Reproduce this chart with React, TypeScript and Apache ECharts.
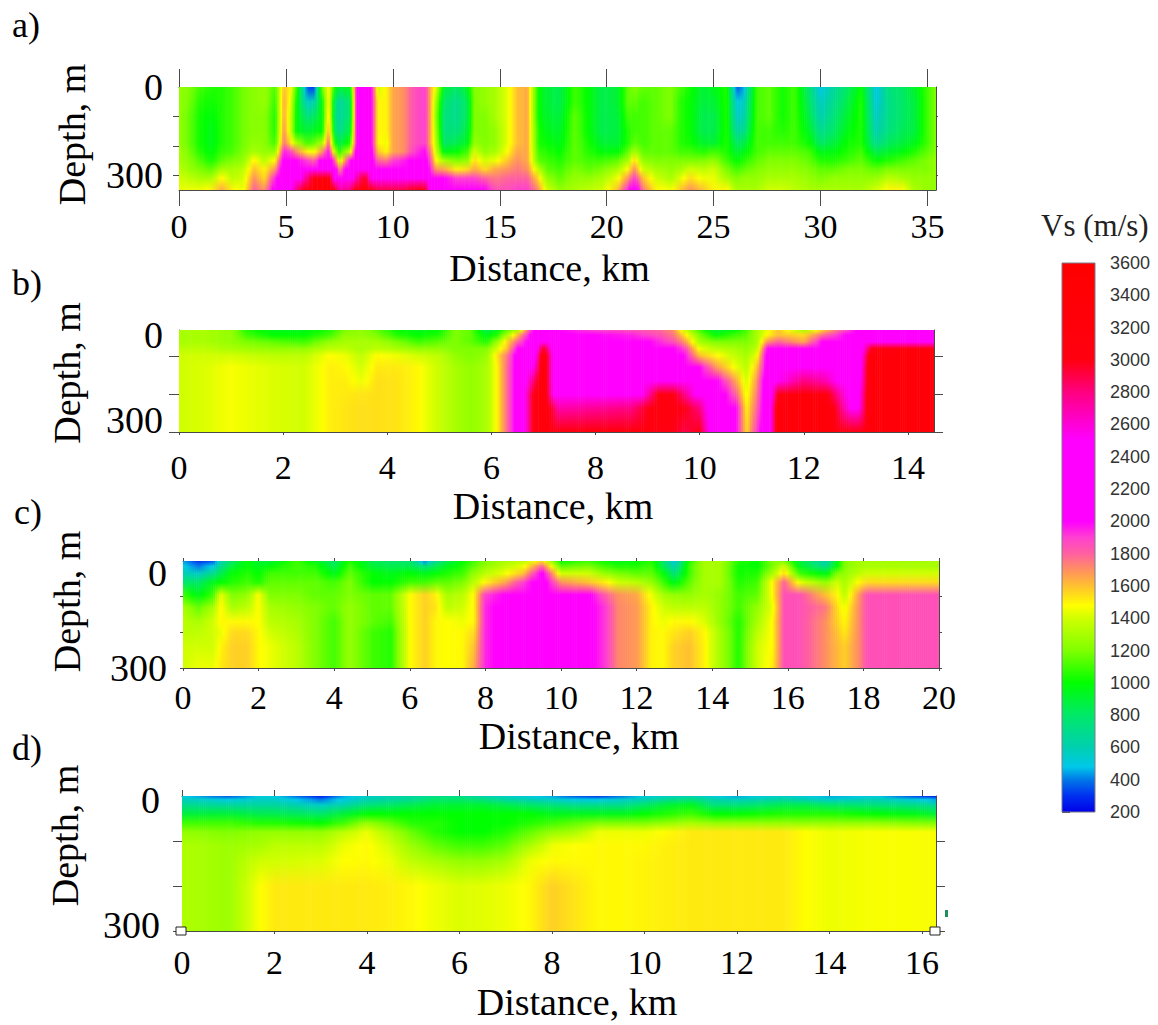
import React, { useEffect, useRef } from "react";
import * as echarts from "echarts";

const SERIF = "Liberation Serif";
const SANS = "Liberation Sans";

// color scale
const VS_LEVELS = [200, 300, 400, 480, 600, 800, 1000, 1200, 1400, 1480, 1600, 1700, 1800, 1900, 2000, 2500, 2600, 2800, 3000, 3600];
const VS_COLORS = ["#0000e8", "#0030f0", "#0078e8", "#00c8e8", "#00d0b0", "#00e868", "#00ff00", "#80ff00", "#d0ff00", "#ffff00", "#ffc030", "#ff9060", "#ff60a0", "#ff40d0", "#ff00ff", "#ff00ff", "#ff00d8", "#ff0080", "#ff0010", "#ff0000"];
const VS_TICKS = [200, 3600];

// a) depth rows (m), distance columns (km), Vs per column
const profileADepth = [0, 50, 100, 150, 190, 220, 250, 280, 310, 350];
const profileADistance = [0, 0.5, 1, 1.5, 2, 2.5, 3, 3.5, 4, 4.5, 4.9, 5.2, 5.5, 6, 6.3, 6.7, 7, 7.3, 7.5, 8, 8.3, 8.7, 9, 9.3, 9.7, 10, 10.5, 11, 11.5, 11.8, 12, 12.4, 13, 13.5, 13.8, 14.3, 14.8, 15.4, 15.8, 16.3, 16.8, 17.2, 17.8, 18.5, 19.2, 19.8, 20.5, 21, 21.3, 21.7, 22.3, 23, 23.5, 23.9, 24.5, 25, 25.6, 26.1, 26.4, 27, 27.6, 28.2, 28.8, 29.5, 30, 30.6, 31.3, 31.9, 32.6, 33.2, 33.8, 34.4, 35, 35.4];
const profileAVs = [
  [1250, 1250, 1250, 1250, 1250, 1300, 1300, 1350, 1400, 1450],
  [1200, 1180, 1150, 1150, 1150, 1180, 1220, 1260, 1350, 1450],
  [1100, 1050, 1020, 1020, 1020, 1050, 1120, 1200, 1300, 1450],
  [1050, 1020, 980, 950, 950, 980, 1030, 1150, 1300, 1500],
  [1050, 1050, 1050, 1050, 1050, 1080, 1150, 1300, 1500, 1650],
  [1100, 1100, 1100, 1100, 1100, 1120, 1200, 1300, 1350, 1500],
  [1180, 1180, 1180, 1180, 1180, 1200, 1250, 1350, 1400, 1450],
  [1220, 1220, 1220, 1220, 1250, 1300, 1500, 1600, 1700, 1800],
  [1250, 1250, 1220, 1220, 1220, 1250, 1350, 1500, 1550, 1700],
  [1120, 1080, 1050, 1050, 1100, 1250, 1500, 1700, 1950, 2100],
  [1600, 1650, 1650, 1700, 1750, 1950, 2100, 2200, 2300, 2400],
  [1500, 1450, 1400, 1400, 1550, 1900, 2200, 2300, 2300, 2400],
  [1100, 1000, 980, 980, 1300, 1700, 2000, 2200, 2300, 2800],
  [350, 550, 750, 900, 1100, 1500, 1900, 2200, 2800, 3100],
  [300, 600, 800, 950, 1150, 1450, 1800, 2200, 3000, 3300],
  [1200, 1000, 980, 1000, 1300, 1700, 2100, 2300, 3100, 3500],
  [1500, 1500, 1550, 1650, 1800, 2000, 2200, 2400, 3100, 3600],
  [1000, 800, 750, 800, 1000, 1300, 1800, 2200, 2400, 3000],
  [900, 650, 650, 700, 850, 1050, 1350, 1700, 2200, 2700],
  [950, 800, 800, 900, 1050, 1400, 2000, 2300, 2300, 2800],
  [2000, 2000, 2000, 2000, 2000, 2100, 2200, 2400, 2700, 3100],
  [2100, 2100, 2100, 2100, 2150, 2200, 2300, 2500, 3000, 3500],
  [2000, 2000, 2000, 2000, 2000, 2050, 2100, 2200, 2500, 3000],
  [1400, 1500, 1500, 1500, 1500, 1600, 1800, 2100, 2300, 2900],
  [1500, 1500, 1500, 1500, 1450, 1500, 1750, 2050, 2250, 2900],
  [1650, 1650, 1650, 1650, 1650, 1650, 1900, 2100, 2300, 2900],
  [1700, 1700, 1700, 1700, 1700, 1700, 1950, 2100, 2300, 2900],
  [1850, 1850, 1850, 1850, 1850, 1900, 2050, 2200, 2400, 3000],
  [1900, 1900, 1900, 1900, 1900, 2000, 2100, 2200, 2500, 3050],
  [1600, 1600, 1600, 1600, 1600, 1700, 1800, 1900, 2100, 2300],
  [1450, 1300, 1250, 1300, 1350, 1400, 1500, 1700, 2000, 2300],
  [900, 800, 750, 750, 800, 950, 1300, 1650, 2000, 2200],
  [800, 700, 700, 750, 850, 1000, 1200, 1500, 1900, 2200],
  [950, 850, 850, 900, 950, 1100, 1250, 1550, 1900, 2150],
  [1200, 1200, 1200, 1200, 1250, 1400, 1550, 1650, 1900, 2100],
  [1250, 1250, 1200, 1200, 1200, 1250, 1400, 1550, 1800, 2000],
  [1300, 1300, 1300, 1250, 1250, 1300, 1450, 1650, 1750, 1850],
  [1450, 1450, 1450, 1450, 1450, 1500, 1600, 1700, 1800, 1850],
  [1600, 1600, 1600, 1600, 1600, 1650, 1700, 1750, 1800, 1900],
  [1650, 1650, 1650, 1650, 1650, 1650, 1650, 1700, 1800, 1900],
  [1000, 1000, 1000, 1050, 1050, 1100, 1150, 1350, 1550, 1700],
  [900, 900, 920, 950, 1000, 1050, 1100, 1150, 1250, 1400],
  [850, 850, 880, 920, 950, 1000, 1050, 1100, 1150, 1250],
  [1100, 1100, 1150, 1150, 1150, 1150, 1150, 1200, 1250, 1300],
  [980, 980, 980, 980, 1020, 1050, 1100, 1150, 1250, 1350],
  [850, 850, 850, 850, 900, 980, 1100, 1200, 1300, 1400],
  [900, 900, 880, 880, 900, 980, 1150, 1300, 1450, 1600],
  [1150, 1150, 1100, 1050, 1050, 1150, 1300, 1500, 1700, 1950],
  [1200, 1150, 1100, 1100, 1150, 1300, 1550, 1700, 1900, 2200],
  [1150, 1100, 1100, 1100, 1100, 1150, 1250, 1400, 1600, 1750],
  [1150, 1150, 1150, 1150, 1150, 1150, 1200, 1300, 1400, 1500],
  [1200, 1200, 1200, 1150, 1150, 1150, 1200, 1250, 1300, 1450],
  [1100, 1050, 1050, 1050, 1050, 1100, 1200, 1300, 1450, 1600],
  [1020, 1000, 1000, 1000, 1020, 1100, 1200, 1400, 1550, 1700],
  [900, 880, 850, 850, 920, 1050, 1200, 1350, 1450, 1600],
  [950, 900, 850, 850, 900, 1100, 1250, 1400, 1450, 1500],
  [1050, 1050, 1050, 1050, 1050, 1050, 1100, 1200, 1300, 1500],
  [350, 500, 550, 650, 800, 900, 1000, 1100, 1200, 1300],
  [450, 550, 600, 700, 850, 950, 1050, 1150, 1250, 1300],
  [1100, 1100, 1100, 1100, 1100, 1100, 1150, 1200, 1250, 1300],
  [1150, 1150, 1150, 1100, 1100, 1150, 1200, 1250, 1300, 1400],
  [1020, 1020, 1020, 1050, 1100, 1150, 1200, 1250, 1300, 1400],
  [1100, 1100, 1100, 1100, 1100, 1150, 1200, 1250, 1300, 1350],
  [750, 800, 850, 920, 1000, 1100, 1150, 1200, 1250, 1300],
  [480, 550, 600, 700, 800, 950, 1050, 1150, 1200, 1300],
  [650, 700, 750, 800, 880, 970, 1050, 1150, 1250, 1300],
  [820, 870, 920, 970, 1020, 1050, 1100, 1200, 1250, 1300],
  [1000, 1050, 1050, 1050, 1050, 1100, 1150, 1200, 1250, 1300],
  [480, 500, 550, 600, 700, 850, 1000, 1150, 1250, 1400],
  [750, 720, 720, 750, 820, 920, 1050, 1200, 1350, 1500],
  [800, 800, 800, 830, 880, 970, 1100, 1200, 1300, 1500],
  [920, 880, 880, 880, 950, 1050, 1150, 1200, 1250, 1300],
  [1100, 1100, 1100, 1100, 1100, 1150, 1200, 1200, 1250, 1250],
  [1200, 1200, 1200, 1200, 1200, 1200, 1250, 1250, 1250, 1250],
];

// b)
const profileBDepth = [0, 15, 35, 55, 75, 110, 150, 190, 230, 300];
const profileBDistance = [0, 0.5, 1, 1.3, 1.8, 2.4, 2.9, 3.2, 3.5, 3.8, 4.2, 4.6, 5, 5.3, 5.6, 5.9, 6.1, 6.3, 6.5, 6.8, 7, 7.3, 8, 8.7, 9.2, 9.5, 9.7, 10, 10.3, 10.7, 10.9, 11.1, 11.3, 11.5, 12, 12.4, 13, 13.3, 14, 14.5];
const profileBVs = [
  [1300, 1300, 1300, 1350, 1400, 1400, 1400, 1400, 1400, 1400],
  [1300, 1300, 1300, 1350, 1400, 1420, 1420, 1420, 1420, 1420],
  [1250, 1250, 1250, 1300, 1400, 1470, 1470, 1470, 1470, 1470],
  [1050, 1100, 1200, 1280, 1380, 1450, 1450, 1450, 1450, 1450],
  [950, 1000, 1150, 1250, 1350, 1420, 1420, 1420, 1420, 1420],
  [950, 1000, 1100, 1250, 1350, 1400, 1400, 1400, 1400, 1400],
  [1050, 1100, 1250, 1350, 1480, 1510, 1510, 1510, 1510, 1510],
  [1200, 1250, 1300, 1350, 1450, 1490, 1510, 1520, 1530, 1530],
  [1250, 1250, 1300, 1300, 1350, 1400, 1450, 1530, 1540, 1540],
  [1150, 1200, 1300, 1350, 1490, 1520, 1540, 1540, 1540, 1540],
  [1000, 1050, 1200, 1300, 1450, 1520, 1530, 1530, 1530, 1530],
  [950, 1000, 1100, 1250, 1400, 1490, 1490, 1490, 1490, 1490],
  [1000, 1050, 1150, 1250, 1350, 1380, 1380, 1380, 1380, 1380],
  [1200, 1200, 1200, 1200, 1250, 1300, 1300, 1300, 1300, 1300],
  [1150, 1150, 1150, 1200, 1200, 1250, 1250, 1250, 1250, 1250],
  [850, 950, 1050, 1200, 1250, 1300, 1300, 1300, 1300, 1300],
  [950, 1050, 1250, 1400, 1520, 1480, 1480, 1480, 1480, 1480],
  [1150, 1300, 1550, 1600, 1750, 1780, 1780, 1780, 1780, 1780],
  [1300, 1600, 1800, 2000, 2100, 2100, 2100, 2100, 2100, 2100],
  [2000, 2100, 2150, 2200, 2300, 2500, 2800, 3000, 3000, 3000],
  [2100, 2200, 2400, 3000, 3200, 3200, 3200, 3200, 3200, 3200],
  [2000, 2100, 2100, 2100, 2100, 2100, 2100, 2150, 2700, 3200],
  [1900, 2000, 2050, 2100, 2100, 2100, 2100, 2150, 2750, 3300],
  [1850, 1950, 2100, 2150, 2150, 2150, 2150, 2200, 2800, 3300],
  [1800, 1850, 1950, 2000, 2100, 2100, 2500, 3000, 3100, 3000],
  [1700, 1750, 1850, 2000, 2100, 2200, 2500, 3000, 3000, 3000],
  [1400, 1550, 1700, 1900, 2000, 2100, 2300, 2800, 3000, 2900],
  [1100, 1200, 1300, 1450, 1600, 2000, 2200, 2400, 2800, 3000],
  [900, 1000, 1200, 1350, 1500, 1700, 2050, 2200, 2200, 2200],
  [1000, 1100, 1200, 1300, 1350, 1450, 1650, 1800, 2000, 2000],
  [1100, 1150, 1200, 1250, 1300, 1350, 1400, 1450, 1500, 1550],
  [1300, 1300, 1300, 1350, 1450, 1600, 1700, 1750, 1800, 1900],
  [1450, 1500, 1700, 2000, 2100, 2100, 2200, 2200, 2200, 2200],
  [1600, 1600, 1800, 2100, 2200, 2200, 2500, 3000, 3200, 3200],
  [1300, 1550, 1650, 2000, 2150, 2300, 2800, 3300, 3300, 3300],
  [1600, 1800, 2050, 2150, 2150, 2300, 2700, 3100, 3300, 3300],
  [2000, 2100, 2100, 2150, 2150, 2150, 2200, 2300, 2350, 3000],
  [2100, 2100, 2200, 3000, 3200, 3300, 3300, 3300, 3300, 3300],
  [2100, 2100, 2300, 3200, 3300, 3300, 3300, 3300, 3300, 3300],
  [2100, 2100, 2300, 3200, 3300, 3300, 3300, 3300, 3300, 3300],
];

// c)
const profileCDepth = [0, 15, 35, 60, 95, 130, 170, 200, 240, 300];
const profileCDistance = [0, 0.4, 0.8, 1, 1.3, 1.7, 2, 2.3, 3, 3.5, 4, 4.4, 5, 5.5, 6, 6.4, 6.7, 7, 7.4, 7.7, 8, 8.5, 9, 9.5, 10, 10.7, 11.2, 11.5, 12, 12.4, 12.7, 13, 13.4, 13.8, 14.2, 14.7, 15.2, 15.6, 15.9, 16.3, 17, 17.3, 17.5, 17.9, 18.1, 19, 20];
const profileCVs = [
  [450, 500, 600, 800, 1100, 1300, 1350, 1350, 1400, 1400],
  [300, 400, 550, 800, 950, 1150, 1300, 1350, 1400, 1450],
  [350, 500, 700, 950, 1100, 1300, 1400, 1400, 1400, 1450],
  [600, 700, 850, 1000, 1450, 1500, 1490, 1450, 1500, 1520],
  [800, 900, 1000, 1050, 1200, 1300, 1490, 1550, 1570, 1570],
  [1000, 1000, 1050, 1100, 1250, 1350, 1490, 1550, 1570, 1570],
  [900, 950, 1000, 1050, 1480, 1480, 1480, 1490, 1490, 1490],
  [900, 1000, 1100, 1150, 1200, 1300, 1350, 1400, 1450, 1450],
  [1100, 1100, 1100, 1150, 1200, 1250, 1300, 1320, 1350, 1350],
  [950, 1050, 1100, 1150, 1150, 1200, 1200, 1200, 1200, 1200],
  [800, 850, 950, 1100, 1150, 1150, 1100, 1100, 1100, 1100],
  [1050, 1100, 1150, 1200, 1200, 1250, 1250, 1250, 1250, 1250],
  [850, 900, 1000, 1000, 1150, 1150, 1150, 1100, 1100, 1100],
  [800, 850, 950, 1000, 1150, 1150, 1100, 1050, 1050, 1050],
  [800, 850, 1000, 1100, 1480, 1480, 1480, 1480, 1480, 1480],
  [400, 750, 950, 1100, 1570, 1570, 1570, 1570, 1570, 1570],
  [700, 850, 1000, 1150, 1500, 1530, 1490, 1490, 1490, 1490],
  [850, 950, 1050, 1150, 1300, 1350, 1480, 1480, 1480, 1480],
  [1000, 1050, 1100, 1200, 1350, 1400, 1450, 1490, 1490, 1490],
  [1100, 1150, 1250, 1350, 1500, 1500, 1500, 1550, 1600, 1650],
  [1200, 1250, 1350, 1500, 1900, 1950, 1950, 1950, 1950, 1950],
  [1300, 1350, 1450, 1650, 2000, 2050, 2050, 2050, 2050, 2050],
  [1350, 1450, 1600, 1900, 2100, 2100, 2100, 2100, 2100, 2100],
  [1550, 1800, 2050, 2100, 2100, 2100, 2100, 2100, 2100, 2100],
  [1000, 1150, 1400, 1700, 2050, 2100, 2100, 2100, 2100, 2100],
  [1100, 1200, 1400, 1600, 2050, 2050, 2050, 2050, 2050, 2050],
  [1000, 1100, 1250, 1500, 1800, 1900, 1900, 1900, 1900, 1900],
  [950, 1050, 1200, 1400, 1700, 1720, 1720, 1720, 1720, 1720],
  [1000, 1050, 1150, 1350, 1650, 1680, 1680, 1680, 1680, 1680],
  [1050, 1100, 1150, 1250, 1450, 1500, 1500, 1500, 1500, 1500],
  [800, 850, 1000, 1100, 1300, 1400, 1450, 1490, 1490, 1490],
  [500, 600, 750, 950, 1250, 1350, 1490, 1530, 1570, 1570],
  [1050, 1100, 1100, 1150, 1250, 1350, 1490, 1570, 1600, 1600],
  [1300, 1300, 1300, 1300, 1300, 1350, 1420, 1490, 1500, 1500],
  [1300, 1300, 1300, 1300, 1250, 1250, 1250, 1300, 1300, 1300],
  [1050, 1020, 1020, 1050, 1100, 1100, 1050, 1050, 1050, 1050],
  [1000, 1000, 1050, 1100, 1150, 1250, 1300, 1350, 1400, 1400],
  [1200, 1200, 1300, 1500, 1500, 1450, 1490, 1490, 1490, 1520],
  [1200, 1400, 1550, 1800, 1850, 1850, 1850, 1850, 1850, 1850],
  [900, 950, 1100, 1450, 1850, 1850, 1850, 1850, 1850, 1850],
  [600, 700, 950, 1250, 1600, 1750, 1700, 1700, 1700, 1700],
  [950, 1000, 1200, 1400, 1500, 1550, 1570, 1600, 1620, 1620],
  [1200, 1200, 1250, 1300, 1350, 1450, 1490, 1520, 1570, 1570],
  [1300, 1300, 1350, 1500, 1700, 1720, 1720, 1720, 1720, 1720],
  [1300, 1300, 1400, 1550, 1850, 1850, 1850, 1850, 1850, 1850],
  [1300, 1300, 1400, 1550, 1850, 1850, 1850, 1850, 1850, 1850],
  [1300, 1300, 1400, 1550, 1850, 1850, 1850, 1850, 1850, 1850],
];

// d)
const profileDDepth = [0, 8, 20, 40, 60, 80, 110, 145, 200, 300];
const profileDDistance = [0, 1, 1.7, 2, 3, 3.5, 4, 4.5, 5, 5.5, 6, 6.5, 7, 7.5, 8, 8.5, 9, 9.5, 10, 10.5, 11, 11.5, 12, 13, 13.5, 14, 15, 16, 16.3];
const profileDVs = [
  [500, 580, 700, 880, 1100, 1250, 1320, 1320, 1320, 1320],
  [350, 500, 650, 900, 1100, 1200, 1270, 1270, 1270, 1270],
  [500, 560, 650, 850, 1050, 1250, 1300, 1400, 1480, 1480],
  [500, 550, 650, 850, 1050, 1250, 1350, 1400, 1520, 1520],
  [250, 400, 550, 800, 1000, 1250, 1350, 1420, 1520, 1520],
  [450, 500, 620, 900, 1100, 1350, 1450, 1480, 1520, 1520],
  [550, 600, 750, 1000, 1250, 1450, 1490, 1490, 1520, 1520],
  [600, 650, 800, 1000, 1150, 1300, 1400, 1450, 1510, 1510],
  [650, 700, 850, 1000, 1050, 1150, 1250, 1350, 1490, 1490],
  [700, 800, 900, 1000, 1050, 1050, 1150, 1300, 1450, 1450],
  [700, 800, 900, 1000, 1000, 1000, 1100, 1250, 1420, 1420],
  [600, 750, 900, 1000, 1000, 1000, 1100, 1250, 1430, 1430],
  [550, 650, 850, 1000, 1000, 1050, 1150, 1300, 1450, 1450],
  [500, 600, 800, 1000, 1050, 1150, 1300, 1450, 1490, 1490],
  [450, 550, 750, 950, 1100, 1250, 1450, 1490, 1570, 1570],
  [350, 500, 700, 950, 1150, 1300, 1480, 1490, 1530, 1530],
  [300, 500, 700, 950, 1200, 1450, 1490, 1490, 1490, 1490],
  [400, 550, 700, 950, 1200, 1450, 1490, 1490, 1490, 1490],
  [500, 600, 800, 1000, 1200, 1450, 1490, 1500, 1500, 1500],
  [550, 700, 900, 1050, 1250, 1490, 1510, 1510, 1510, 1510],
  [600, 750, 950, 1100, 1300, 1520, 1520, 1520, 1520, 1520],
  [500, 620, 750, 1000, 1250, 1520, 1520, 1520, 1520, 1520],
  [450, 580, 750, 1000, 1250, 1520, 1520, 1520, 1520, 1520],
  [550, 650, 850, 1050, 1250, 1520, 1520, 1520, 1520, 1520],
  [500, 600, 850, 1050, 1250, 1480, 1480, 1480, 1480, 1480],
  [450, 550, 800, 1050, 1250, 1450, 1450, 1450, 1450, 1450],
  [500, 600, 750, 1000, 1250, 1470, 1470, 1470, 1470, 1470],
  [300, 500, 700, 950, 1200, 1470, 1470, 1470, 1470, 1470],
  [250, 450, 650, 900, 1200, 1470, 1470, 1470, 1470, 1470],
];

const panels = [
  {
    depth: profileADepth, distance: profileADistance, vs: profileAVs,
    left: 179, top: 87, width: 757, height: 103, xMax: 35.4, yMax: 350,
    xTicks: [0, 5, 10, 15, 20, 25, 30, 35], yTicks: [100, 200, 300],
    topTick: 18, bottomTick: 16, leftTick: 6, rightTick: 2, topLine: true,
    xMargin: 19, nameGap: 59, namePad: [0, 16, 0, 0], yNameGap: 88, yNamePad: [0, 0, 0, 8],
    yMargin: 16, shift: [0, 0],
  },
  {
    depth: profileBDepth, distance: profileBDistance, vs: profileBVs,
    left: 179, top: 330, width: 755, height: 102, xMax: 14.5, yMax: 300,
    xTicks: [0, 2, 4, 6, 8, 10, 12, 14], yTicks: [76, 188, 300],
    topTick: 0, bottomTick: 3, leftTick: 10, rightTick: 9, topLine: false,
    xMargin: 18, nameGap: 55, namePad: [0, 7, 0, 0], yNameGap: 93, yNamePad: [0, 0, 0, 16],
    yMargin: 16, shift: [5, -12],
  },
  {
    depth: profileCDepth, distance: profileCDistance, vs: profileCVs,
    left: 183, top: 561, width: 756, height: 107, xMax: 20, yMax: 300,
    xTicks: [0, 2, 4, 6, 8, 10, 12, 14, 16, 18, 20], yTicks: [100, 200, 300],
    topTick: 3, bottomTick: 3, leftTick: 3, rightTick: 3, topLine: true,
    xMargin: 12, nameGap: 49, namePad: [0, 0, 0, 36], yNameGap: 97, yNamePad: [0, 0, 0, 26],
    yMargin: 16, shift: [12, 0],
  },
  {
    depth: profileDDepth, distance: profileDDistance, vs: profileDVs,
    left: 182, top: 796, width: 754, height: 135, xMax: 16.3, yMax: 300,
    xTicks: [0, 2, 4, 6, 8, 10, 12, 14, 16], yTicks: [100, 200, 300],
    topTick: 6, bottomTick: 3, leftTick: 9, rightTick: 9, topLine: true,
    xMargin: 14, nameGap: 52, namePad: [0, 0, 0, 36], yNameGap: 98, yNamePad: [0, 0, 0, 56],
    yMargin: 22, shift: [4, -6],
  },
];

const hexToRgb = (hex: string) => [
  parseInt(hex.slice(1, 3), 16),
  parseInt(hex.slice(3, 5), 16),
  parseInt(hex.slice(5, 7), 16),
];

const VS_RGB = VS_COLORS.map(hexToRgb);

// value -> color on the legend scale
const vsColor = (v: number) => {
  let i = 0;
  while (i < VS_LEVELS.length - 2 && v > VS_LEVELS[i + 1]) i++;
  const t = Math.max(0, Math.min(1, (v - VS_LEVELS[i]) / (VS_LEVELS[i + 1] - VS_LEVELS[i])));
  const c = VS_RGB[i].map((a, k) => Math.round(a + (VS_RGB[i + 1][k] - a) * t));
  return `rgb(${c[0]},${c[1]},${c[2]})`;
};

// contour shading: each gap between two read columns is drawn as thin strips
const sectionRenderer = (panel: (typeof panels)[number]) => (params: any, api: any) => {
  const i = params.dataIndex;
  if (i >= panel.distance.length - 1) return null;
  const d0 = panel.distance[i];
  const d1 = panel.distance[i + 1];
  const yTop = api.coord([d0, 0])[1];
  const yBottom = api.coord([d0, panel.yMax])[1];
  const x0 = api.coord([d0, 0])[0];
  const x1 = api.coord([d1, 0])[0];
  const steps = Math.max(1, Math.ceil((x1 - x0) / 2));
  const children = [];
  for (let s = 0; s < steps; s++) {
    const t = (s + 0.5) / steps;
    const colorStops = panel.depth.map((dep, r) => ({
      offset: dep / panel.yMax,
      color: vsColor(panel.vs[i][r] + (panel.vs[i + 1][r] - panel.vs[i][r]) * t),
    }));
    const sx = x0 + ((x1 - x0) * s) / steps;
    const overlap = i === panel.distance.length - 2 && s === steps - 1 ? 0 : 0.6;
    children.push({
      type: "rect",
      shape: { x: sx, y: yTop, width: (x1 - x0) / steps + overlap, height: yBottom - yTop },
      style: { fill: { type: "linear", x: 0, y: 0, x2: 0, y2: 1, colorStops }, stroke: null },
      silent: true,
    });
  }
  return { type: "group", children };
};

const legendRenderer = (_params: any, api: any) => {
  const topLeft = api.coord([0, VS_LEVELS[VS_LEVELS.length - 1]]);
  const bottomRight = api.coord([1, VS_LEVELS[0]]);
  const span = VS_LEVELS[VS_LEVELS.length - 1] - VS_LEVELS[0];
  return {
    type: "rect",
    shape: { x: topLeft[0], y: topLeft[1], width: bottomRight[0] - topLeft[0], height: bottomRight[1] - topLeft[1] },
    style: {
      fill: {
        type: "linear", x: 0, y: 1, x2: 0, y2: 0,
        colorStops: VS_LEVELS.map((l, k) => ({ offset: (l - VS_LEVELS[0]) / span, color: VS_COLORS[k] })),
      },
      stroke: "#7c7a88",
      lineWidth: 1,
    },
  };
};

const buildOption = () => {
  const grid: any[] = [];
  const xAxis: any[] = [];
  const yAxis: any[] = [];
  const series: any[] = [];
  const lineStyle = { color: "#4a4a4a", width: 1 };

  panels.forEach((p, n) => {
    grid.push({ left: p.left, top: p.top, width: p.width, height: p.height, outerBoundsMode: "none" });
    const xBase = xAxis.length;
    const yBase = yAxis.length;
    xAxis.push(
      {
        type: "value", gridIndex: n, position: "bottom", min: 0, max: p.xMax,
        axisLine: { show: true, onZero: false, lineStyle },
        axisTick: { show: true, length: p.bottomTick, lineStyle, customValues: p.xTicks },
        axisLabel: { show: true, customValues: p.xTicks, margin: p.xMargin, fontFamily: SERIF, fontSize: 34, color: "#000" },
        splitLine: { show: false },
        name: "Distance, km", nameLocation: "middle", nameGap: p.nameGap, nameMoveOverlap: false,
        nameTextStyle: { fontFamily: SERIF, fontSize: 38, color: "#000", padding: p.namePad },
      },
      {
        type: "value", gridIndex: n, position: "top", min: 0, max: p.xMax,
        axisLine: { show: p.topLine, onZero: false, lineStyle },
        axisTick: { show: p.topTick > 0, length: p.topTick, lineStyle, customValues: p.xTicks },
        axisLabel: { show: false },
        splitLine: { show: false },
      }
    );
    const shift = p.shift;
    const pad = (s: number) => (s >= 0 ? [s * 2, 0, 0, 0] : [0, 0, -s * 2, 0]);
    yAxis.push(
      {
        type: "value", gridIndex: n, position: "left", inverse: true, min: 0, max: p.yMax,
        axisLine: { show: true, onZero: false, lineStyle },
        axisTick: { show: true, length: p.leftTick, lineStyle, customValues: p.yTicks },
        axisLabel: {
          show: true, customValues: [0, 300], margin: p.yMargin, fontFamily: SERIF, fontSize: 38, color: "#000",
          formatter: (v: number) => (v === 0 ? `{zero|0}` : `{deep|300}`),
          rich: {
            zero: { fontFamily: SERIF, fontSize: 38, color: "#000", padding: pad(shift[0]) },
            deep: { fontFamily: SERIF, fontSize: 38, color: "#000", padding: pad(shift[1]) },
          },
        },
        splitLine: { show: false },
        name: "Depth, m", nameLocation: "middle", nameGap: p.yNameGap, nameRotate: 90, nameMoveOverlap: false,
        nameTextStyle: { fontFamily: SERIF, fontSize: 38, color: "#000", padding: p.yNamePad },
      },
      {
        type: "value", gridIndex: n, position: "right", inverse: true, min: 0, max: p.yMax,
        axisLine: { show: true, onZero: false, lineStyle },
        axisTick: { show: true, length: p.rightTick, lineStyle, customValues: p.yTicks },
        axisLabel: { show: false },
        splitLine: { show: false },
      }
    );
    series.push({
      type: "custom",
      xAxisIndex: xBase,
      yAxisIndex: yBase,
      coordinateSystem: "cartesian2d",
      data: p.distance.map((d) => [d, 0]),
      encode: { x: 0, y: 1 },
      renderItem: sectionRenderer(p),
      clip: true,
      silent: true,
      z: 1,
    });
  });

  // legend bar on its own grid so the scale labels come from an axis
  grid.push({ left: 1062, top: 263, width: 33, height: 549, outerBoundsMode: "none" });
  const legendX = xAxis.length;
  const legendY = yAxis.length;
  xAxis.push({ type: "value", gridIndex: panels.length, min: 0, max: 1, show: false });
  yAxis.push({
    type: "value", gridIndex: panels.length, position: "right",
    min: VS_TICKS[0], max: VS_TICKS[1], interval: 200,
    axisLine: { show: false },
    axisTick: { show: true, length: 8, lineStyle: { color: "#444", width: 1 } },
    axisLabel: { margin: 15, fontFamily: SANS, fontSize: 18, color: "#333", formatter: (v: number) => String(v) },
    splitLine: { show: false },
  });
  series.push({
    type: "custom",
    xAxisIndex: legendX,
    yAxisIndex: legendY,
    coordinateSystem: "cartesian2d",
    data: [[0, VS_TICKS[0]]],
    encode: { x: 0, y: 1 },
    renderItem: legendRenderer,
    silent: true,
  });

  const letter = (text: string, x: number, y: number) => ({
    type: "text",
    x, y,
    style: { text, fontFamily: SERIF, fontSize: 36, fill: "#000", verticalAlign: "middle" },
  });
  const handle = (x: number, y: number) => ({
    type: "rect",
    z: 10,
    shape: { x, y, width: 10, height: 8 },
    style: { fill: "#fff", stroke: "#222", lineWidth: 1 },
  });

  return {
    animation: false,
    backgroundColor: "#fff",
    grid,
    xAxis,
    yAxis,
    series,
    graphic: [
      letter("a)", 12, 25),
      letter("b)", 12, 283),
      letter("c)", 14, 512),
      letter("d)", 12, 748),
      {
        type: "text", x: 1041, y: 225,
        style: { text: "Vs (m/s)", fontFamily: SERIF, fontSize: 31, fill: "#222", verticalAlign: "middle" },
      },
      handle(176, 927),
      handle(930, 927),
      { type: "rect", shape: { x: 945, y: 910, width: 3, height: 7 }, style: { fill: "#1f8f5f" } },
    ],
  };
};

const App: React.FC = () => {
  const chartRef = useRef<HTMLDivElement>(null);

  useEffect(() => {
    if (!chartRef.current) return;
    const chart = echarts.init(chartRef.current, undefined, { renderer: "svg" });
    chart.setOption(buildOption());
    return () => {
      chart.dispose();
    };
  }, []);

  return (
    <div
      ref={chartRef}
      style={{ position: "absolute", left: 0, top: 0, width: 1158, height: 1025 }}
    />
  );
};

export default App;
